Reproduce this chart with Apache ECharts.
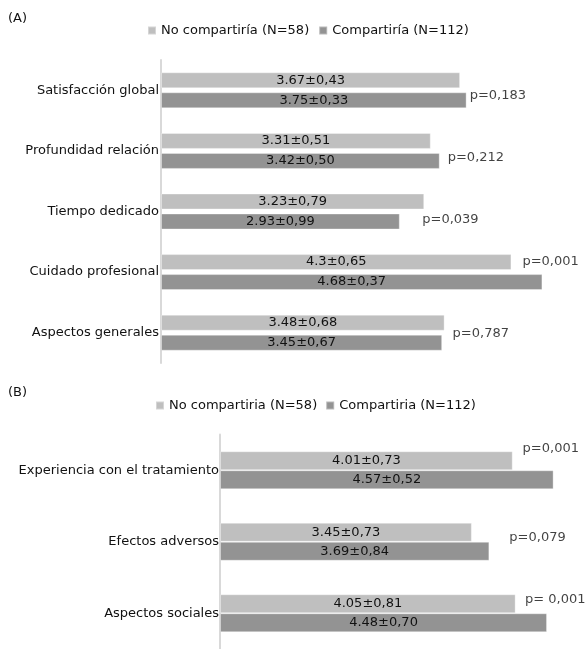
<!DOCTYPE html>
<html>
<head>
<meta charset="utf-8">
<script src="https://cdn.jsdelivr.net/npm/echarts@6/dist/echarts.min.js"></script>
<style>
html,body{margin:0;padding:0;background:#fff;}
#chart{width:585px;height:649px;}
</style>
</head>
<body>
<div id="chart"></div>
<script>
// ---- Data: panel A ----
var catsA = ['Satisfacción global', 'Profundidad relación', 'Tiempo dedicado', 'Cuidado profesional', 'Aspectos generales'];
var nameNoA = 'No compartiría (N=58)';
var nameSiA = 'Compartiría (N=112)';
var meanNoA = [3.67, 3.31, 3.23, 4.3, 3.48];
var sdNoA = [0.43, 0.51, 0.79, 0.65, 0.68];
var meanSiA = [3.75, 3.42, 2.93, 4.68, 3.45];
var sdSiA = [0.33, 0.50, 0.99, 0.37, 0.67];
var pA = ['p=0,183', 'p=0,212', 'p=0,039', 'p=0,001', 'p=0,787'];

// ---- Data: panel B ----
var catsB = ['Experiencia con el tratamiento', 'Efectos adversos', 'Aspectos sociales'];
var nameNoB = 'No compartiria (N=58)';
var nameSiB = 'Compartiria (N=112)';
var meanNoB = [4.01, 3.45, 4.05];
var sdNoB = [0.73, 0.73, 0.81];
var meanSiB = [4.57, 3.69, 4.48];
var sdSiB = [0.52, 0.84, 0.70];
var pB = ['p=0,001', 'p=0,079', 'p= 0,001'];

// ---- Styling / layout ----
var FONT = '"DejaVu Sans", "Liberation Sans", Arial, sans-serif';
var FS = 13;
var LIGHT = '#bfbfbf';
var DARK = '#939393';
var TXT = '#111111';
// p-value label offsets relative to end of the longer bar (layout only)
var pOffA = [[3, 5], [8, 6.5], [-2, 8], [-20, -10.5], [8, 1]];
var pOffB = [[-31, -22], [20, -4.5], [-22, -14]];

function fmtSd(v){ return v.toFixed(2).replace('.', ','); }

function barSeries(name, means, sds, gi, width, gap, color){
  return {
    name: name, type: 'bar', xAxisIndex: gi, yAxisIndex: gi,
    barWidth: width, barGap: gap,
    data: means.map(function(m, i){ return {value: m, sd: sds[i]}; }),
    label: {
      show: true, position: 'inside', color: TXT, fontSize: FS, fontFamily: FONT,
      formatter: function(p){ return String(p.value) + '±' + fmtSd(p.data.sd); }
    },
    itemStyle: {color: color, borderColor: 'rgba(255,255,255,0.35)', borderWidth: 1},
    emphasis: {disabled: true},
    silent: true
  };
}

function pSeries(ps, a, b, offs, gi){
  return {
    type: 'scatter', xAxisIndex: gi, yAxisIndex: gi, symbolSize: 0, silent: true,
    data: ps.map(function(t, i){
      return {
        value: [Math.max(a[i], b[i]), i],
        label: {show: true, position: 'right', distance: 0, offset: offs[i],
                formatter: t, color: TXT, fontSize: FS, fontFamily: FONT}
      };
    })
  };
}

var chart = echarts.init(document.getElementById('chart'), null, {renderer: 'canvas'});
var option = {
  animation: false,
  backgroundColor: '#fff',
  textStyle: {fontFamily: FONT},
  graphic: [
    {type: 'text', left: 8, top: 12, style: {text: '(A)', fontSize: FS, fontFamily: FONT, fill: TXT}},
    {type: 'text', left: 8, top: 386, style: {text: '(B)', fontSize: FS, fontFamily: FONT, fill: TXT}}
  ],
  legend: [
    {data: [nameNoA, nameSiA], left: 142, top: 19, itemWidth: 8, itemHeight: 8, itemGap: 9,
     icon: 'rect', textStyle: {fontSize: FS, color: TXT, fontFamily: FONT}, selectedMode: false},
    {data: [nameNoB, nameSiB], left: 150, top: 394, itemWidth: 8, itemHeight: 8, itemGap: 8,
     icon: 'rect', textStyle: {fontSize: FS, color: TXT, fontFamily: FONT}, selectedMode: false}
  ],
  grid: [
    {left: 161, top: 60, width: 407.5, height: 303},
    {left: 220, top: 434.5, width: 366.5, height: 220.5}
  ],
  xAxis: [
    {type: 'value', gridIndex: 0, min: 0, max: 5, show: false},
    {type: 'value', gridIndex: 1, min: 0, max: 5, show: false}
  ],
  yAxis: [
    {type: 'category', gridIndex: 0, data: catsA, inverse: true,
     axisLine: {show: true, lineStyle: {color: '#d9d9d9', width: 2}},
     axisTick: {show: false}, splitLine: {show: false},
     axisLabel: {color: TXT, fontSize: FS, fontFamily: FONT, margin: 2}},
    {type: 'category', gridIndex: 1, data: catsB, inverse: true,
     axisLine: {show: true, lineStyle: {color: '#d9d9d9', width: 2}},
     axisTick: {show: false}, splitLine: {show: false},
     axisLabel: {color: TXT, fontSize: FS, fontFamily: FONT, margin: 1}}
  ],
  series: [
    barSeries(nameNoA, meanNoA, sdNoA, 0, 16, '25%', LIGHT),
    barSeries(nameSiA, meanSiA, sdSiA, 0, 16, '25%', DARK),
    pSeries(pA, meanNoA, meanSiA, pOffA, 0),
    barSeries(nameNoB, meanNoB, sdNoB, 1, 19, '0%', LIGHT),
    barSeries(nameSiB, meanSiB, sdSiB, 1, 19, '0%', DARK),
    pSeries(pB, meanNoB, meanSiB, pOffB, 1)
  ]
};
chart.setOption(option);
</script>
</body>
</html>
